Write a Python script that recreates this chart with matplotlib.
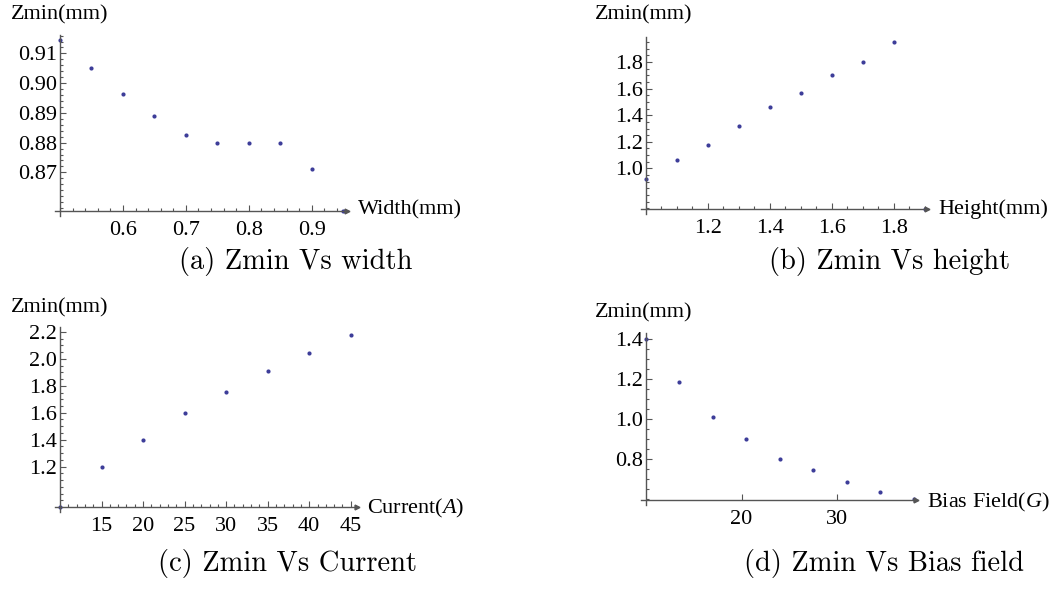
import matplotlib
matplotlib.use("Agg")
import matplotlib.pyplot as plt
from matplotlib.ticker import MultipleLocator, FormatStrFormatter

plt.rcParams['font.family'] = ['Liberation Serif', 'DejaVu Serif']
plt.rcParams['mathtext.fontset'] = 'custom'
plt.rcParams['mathtext.rm'] = 'Liberation Serif'
plt.rcParams['mathtext.it'] = 'Liberation Serif:italic'

# data
width_mm = [0.50, 0.55, 0.60, 0.65, 0.70, 0.75, 0.80, 0.85, 0.90, 0.95]
zmin_width = [0.9145, 0.9050, 0.8963, 0.8889, 0.8825, 0.8800, 0.8800, 0.8800, 0.8711, 0.8570]

height_mm = [1.0, 1.1, 1.2, 1.3, 1.4, 1.5, 1.6, 1.7, 1.8, 1.9]
zmin_height = [0.917, 1.062, 1.175, 1.320, 1.460, 1.565, 1.705, 1.800, 1.953, 0.695]

current_a = [10, 15, 20, 25, 30, 35, 40, 45]
zmin_current = [0.90, 1.20, 1.40, 1.60, 1.756, 1.909, 2.044, 2.18]

bias_g = [10, 13.5, 17, 20.5, 24, 27.5, 31, 34.5, 38]
zmin_bias = [1.40, 1.183, 1.012, 0.898, 0.800, 0.747, 0.685, 0.636, 0.600]

W, H = 1053, 590
DOT = '#3d3d99'
AXC = '#555555'

fig = plt.figure(figsize=(W / 100, H / 100), dpi=100)


def panel(l, t, r, b, x, y, xlim, ylim, xmaj, xmin, ymaj, ymin, yfmt, xfmt, xlabel, xlab_pos, ylab_pos):
    ax = fig.add_axes([l / W, 1 - b / H, (r - l) / W, (b - t) / H])
    ax.plot(x, y, 'o', ms=3.0, color=DOT, mec='none', clip_on=False)
    ax.set_xlim(*xlim)
    ax.set_ylim(*ylim)
    ax.set_xticks(xmaj)
    ax.set_yticks(ymaj)
    if xmin:
        ax.xaxis.set_minor_locator(MultipleLocator(xmin))
    ax.yaxis.set_minor_locator(MultipleLocator(ymin))
    ax.yaxis.set_major_formatter(FormatStrFormatter(yfmt))
    ax.xaxis.set_major_formatter(FormatStrFormatter(xfmt))
    for s in ax.spines.values():
        s.set_visible(False)
    ax.tick_params(which='both', direction='in', color=AXC, width=0.8, labelsize=16)
    ax.tick_params(which='major', length=4)
    ax.tick_params(which='minor', length=2.2)
    ax.tick_params(axis='x', pad=7)
    ax.tick_params(axis='y', pad=2)
    dx = 5 / (r - l)
    dy = 5 / (b - t)
    ax.plot([-dx, 1], [0, 0], color=AXC, lw=1.0, transform=ax.transAxes, clip_on=False)
    ax.plot([0, 0], [-dy, 1], color=AXC, lw=1.0, transform=ax.transAxes, clip_on=False)
    ax.plot([1], [0], marker='>', ms=3.5, color=AXC, transform=ax.transAxes, clip_on=False)
    fig.text(xlab_pos[0] / W, 1 - xlab_pos[1] / H, xlabel, fontsize=16, ha='left', va='center')
    fig.text(ylab_pos[0] / W, 1 - ylab_pos[1] / H, 'Zmin(mm)', fontsize=16, ha='left', va='center')
    ax.patch.set_alpha(0)
    return ax


panel(60, 35, 347, 211, width_mm, zmin_width, (0.5, 0.956), (0.857, 0.9162),
      [0.6, 0.7, 0.8, 0.9], 0.02, [0.87, 0.88, 0.89, 0.90, 0.91], 0.002, '%.2f', '%.1f',
      'Width(mm)', (358, 210), (11, 15))

panel(646, 37, 927, 209, height_mm, zmin_height, (1.0, 1.907), (0.695, 1.988),
      [1.2, 1.4, 1.6, 1.8], 0.05, [1.0, 1.2, 1.4, 1.6, 1.8], 0.05, '%.1f', '%.1f',
      'Height(mm)', (938, 209), (595, 15))

panel(60, 327, 357, 507, current_a, zmin_current, (10, 45.75), (0.9, 2.237),
      [15, 20, 25, 30, 35, 40, 45], 1, [1.2, 1.4, 1.6, 1.8, 2.0, 2.2], 0.05, '%.1f', '%d',
      r'Current($\mathit{A}$)', (367, 508), (11, 308))

panel(646, 333, 916, 500, bias_g, zmin_bias, (10, 38.25), (0.595, 1.43),
      [20, 30], None, [0.8, 1.0, 1.2, 1.4], 0.05, '%.1f', '%d',
      r'Bias Field($\mathit{G}$)', (927, 502), (595, 313))

captions = ['(a) Zmin Vs width', '(b) Zmin Vs height', '(c) Zmin Vs Current', '(d) Zmin Vs Bias field']
cap_pos = [(296, 261), (890, 261), (287, 563), (884, 563)]
for txt, (cx, cy) in zip(captions, cap_pos):
    fig.text(cx / W, 1 - cy / H, txt, fontfamily='cmr10', fontsize=20.5, ha='center', va='center')

fig.savefig('out.png', dpi=100)
